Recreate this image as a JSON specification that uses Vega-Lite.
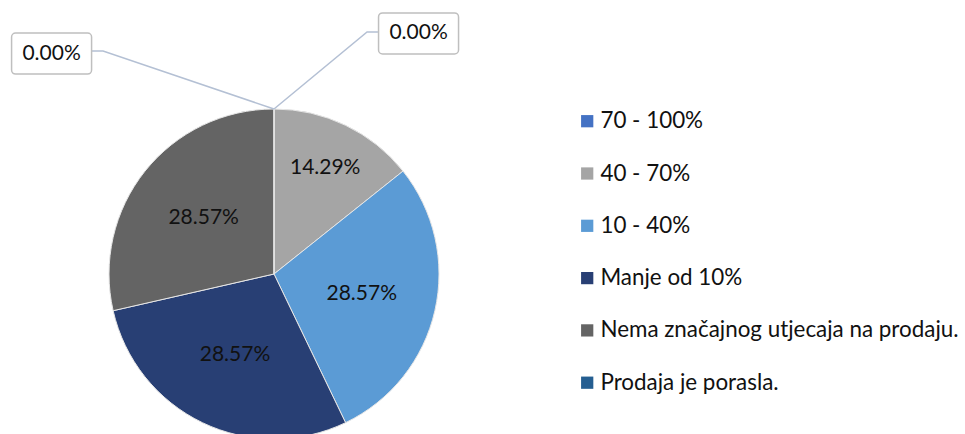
{
  "$schema": "https://vega.github.io/schema/vega-lite/v6.json",
  "width": 548,
  "height": 548,
  "padding": 0,
  "autosize": {"type": "pad"},
  "background": "white",
  "config": {"view": {"stroke": null}, "font": "Lato"},
  "datasets": {
    "slices": [
      {"idx": 1, "category": "70 - 100%", "value": 0},
      {"idx": 2, "category": "40 - 70%", "value": 0.142857},
      {"idx": 3, "category": "10 - 40%", "value": 0.285714},
      {"idx": 4, "category": "Manje od 10%", "value": 0.285714},
      {"idx": 5, "category": "Nema značajnog utjecaja na prodaju.", "value": 0.285714},
      {"idx": 6, "category": "Prodaja je porasla.", "value": 0}
    ],
    "callouts": [
      {"category": "70 - 100%", "value": 0, "lx": 0.876, "ly": 1.458},
      {"category": "Prodaja je porasla.", "value": 0, "lx": -1.348, "ly": 1.336}
    ],
    "leaders": [
      {"category": "70 - 100%", "step": 1, "px": 0, "py": 1},
      {"category": "70 - 100%", "step": 2, "px": 0.564, "py": 1.467},
      {"category": "70 - 100%", "step": 3, "px": 0.63, "py": 1.467},
      {"category": "Prodaja je porasla.", "step": 1, "px": 0, "py": 1},
      {"category": "Prodaja je porasla.", "step": 2, "px": -1.036, "py": 1.352},
      {"category": "Prodaja je porasla.", "step": 3, "px": -1.109, "py": 1.352}
    ]
  },
  "layer": [
    {
      "data": {"name": "slices"},
      "mark": {"type": "arc", "outerRadius": 165, "stroke": "#e6e6e6", "strokeWidth": 1},
      "encoding": {
        "theta": {"field": "value", "type": "quantitative", "stack": true},
        "order": {"field": "idx", "type": "quantitative"},
        "color": {
          "field": "category",
          "type": "nominal",
          "scale": {
            "domain": ["70 - 100%", "40 - 70%", "10 - 40%", "Manje od 10%", "Nema značajnog utjecaja na prodaju.", "Prodaja je porasla."],
            "range": ["#4472c4", "#a5a5a5", "#5b9bd5", "#283f74", "#646464", "#255e91"]
          },
          "legend": {
            "title": null,
            "orient": "none",
            "legendX": 576,
            "legendY": 110,
            "padding": 0,
            "symbolType": "square",
            "symbolSize": 150,
            "symbolStrokeWidth": 0,
            "labelFontSize": 22.4,
            "labelColor": "#111111",
            "labelFont": "Lato",
            "labelOffset": 2,
            "labelLimit": 600,
            "rowPadding": 29.3
          }
        }
      }
    },
    {
      "data": {"name": "slices"},
      "transform": [{"filter": "datum.value > 0"}],
      "mark": {"type": "text", "fontSize": 21, "color": "#111111", "font": "Lato", "radius": {"expr": "datum.value < 0.2 ? 118 : 90"}},
      "encoding": {
        "theta": {"field": "value", "type": "quantitative", "stack": true},
        "order": {"field": "idx", "type": "quantitative"},
        "text": {"field": "value", "type": "quantitative", "format": ".2%"}
      }
    },
    {
      "data": {"name": "leaders"},
      "mark": {"type": "line", "color": "#b4c0d4", "strokeWidth": 1.5},
      "encoding": {
        "x": {"field": "px", "type": "quantitative", "scale": {"domain": [-1.6606, 1.6606]}, "axis": null},
        "y": {"field": "py", "type": "quantitative", "scale": {"domain": [-1.6606, 1.6606]}, "axis": null},
        "detail": {"field": "category"},
        "order": {"field": "step", "type": "quantitative"}
      }
    },
    {
      "data": {"name": "callouts"},
      "mark": {
        "type": "point",
        "shape": "M-0.9,-0.5125H0.9A0.1,0.1 0 0 1 1,-0.4125V0.4125A0.1,0.1 0 0 1 0.9,0.5125H-0.9A0.1,0.1 0 0 1 -1,0.4125V-0.4125A0.1,0.1 0 0 1 -0.9,-0.5125Z",
        "size": 6400,
        "filled": true,
        "fill": "white",
        "stroke": "#bfbfbf",
        "strokeWidth": 1.5,
        "opacity": 1
      },
      "encoding": {
        "x": {"field": "lx", "type": "quantitative", "scale": {"domain": [-1.6606, 1.6606]}, "axis": null},
        "y": {"field": "ly", "type": "quantitative", "scale": {"domain": [-1.6606, 1.6606]}, "axis": null}
      }
    },
    {
      "data": {"name": "callouts"},
      "mark": {"type": "text", "fontSize": 21, "color": "#111111", "font": "Lato"},
      "encoding": {
        "x": {"field": "lx", "type": "quantitative", "scale": {"domain": [-1.6606, 1.6606]}, "axis": null},
        "y": {"field": "ly", "type": "quantitative", "scale": {"domain": [-1.6606, 1.6606]}, "axis": null},
        "text": {"field": "value", "type": "quantitative", "format": ".2%"}
      }
    }
  ]
}
